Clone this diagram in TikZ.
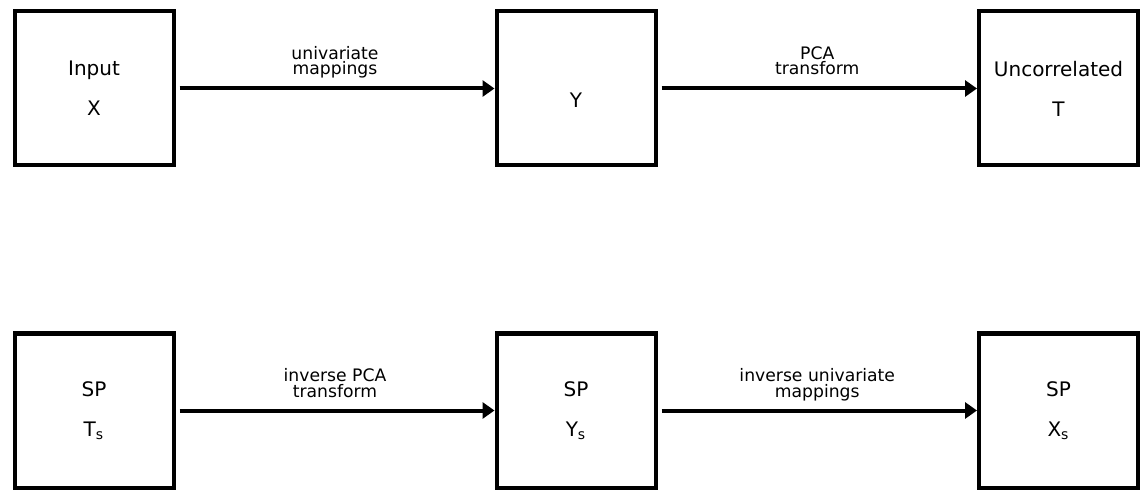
\documentclass[tikz,border=0pt]{standalone}
\usepackage{fontspec}
\setmainfont{DejaVu Sans}
\usetikzlibrary{arrows.meta}
\begin{document}
\begin{tikzpicture}[x=0.5pt,y=-0.5pt,
  box/.style={draw, line width=2pt, minimum width=79.5pt, minimum height=77pt,
    inner sep=0pt, align=center, font=\fontsize{10}{20}\selectfont},
  arr/.style={line width=2pt, -{Triangle[length=6pt,width=8pt]},
    shorten <=2pt, shorten >=0pt},
  lab/.style={midway, anchor=south, inner sep=0pt, text depth=0pt, align=center,
    yshift=5.75pt, font=\fontsize{8.6}{7.8}\selectfont}]
\useasboundingbox (0,0) rectangle (1144,491);
% top row
\node[box] (x) at (94,88.5) {Input\\X};
\node[box, text height=19.5pt, text depth=0pt] (y) at (576,88.5) {Y};
\node[box] (t) at (1058.5,88.5) {Uncorrelated\\T};
% bottom row
\node[box] (ts) at (94,410.5) {SP\\T\textsubscript{s}};
\node[box] (ys) at (576,410.5) {SP\\Y\textsubscript{s}};
\node[box] (xs) at (1058.5,410.5) {SP\\X\textsubscript{s}};
% connectors
\draw[arr] (x) -- (y) node[lab] {univariate\\mappings};
\draw[arr] (y) -- (t) node[lab] {PCA\\transform};
\draw[arr] (ts) -- (ys) node[lab] {inverse PCA\\transform};
\draw[arr] (ys) -- (xs) node[lab] {inverse univariate\\mappings};
\end{tikzpicture}
\end{document}
